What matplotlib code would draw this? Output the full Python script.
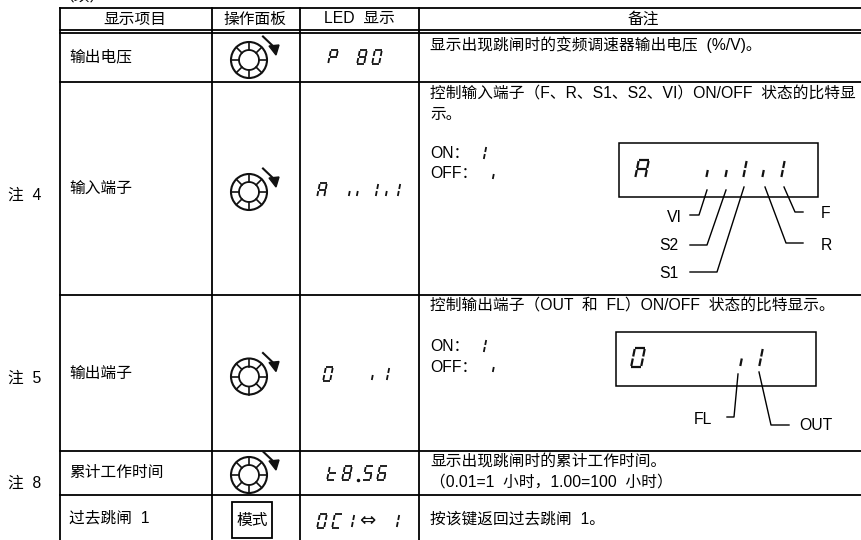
import numpy as np
import matplotlib
matplotlib.use('Agg')
import matplotlib.pyplot as plt
from matplotlib.patches import Rectangle, Circle

plt.rcParams['font.family'] = ['Liberation Sans', 'Noto Sans CJK SC', 'DejaVu Sans']

# textos da tabela
cabecalho = ['显示项目', '操作面板', 'LED  显示', '备注']
itens = ['输出电压', '输入端子', '输出端子', '累计工作时间', '过去跳闸  1']
notas = ['注  4', '注  5', '注  8']
observacoes = [
    '显示出现跳闸时的变频调速器输出电压  (%/V)。',
    '控制输入端子（F、R、S1、S2、VI）ON/OFF  状态的比特显',
    '示。',
    '控制输出端子（OUT  和  FL）ON/OFF  状态的比特显示。',
    '显示出现跳闸时的累计工作时间。',
    '（0.01=1  小时，1.00=100  小时）',
    '按该键返回过去跳闸  1。',
]
rotulos_on_off = ['ON：', 'OFF：']
rotulos_entrada = ['VI', 'S2', 'S1', 'R', 'F']
rotulos_saida = ['FL', 'OUT']
led_textos = ['P80', 'A,,1,1', '0,1', 't8.56', 'OC11']

# posicoes (pixels)
linhas_v = [60, 212, 300, 419]
linhas_h = [8, 29.7, 33, 81.7, 294.5, 451, 495]
cab_x = [135, 255, 359, 643]
item_y = [57, 188, 373, 472, 518]
nota_y = [195, 378, 483]
obs_y = [45, 94, 115, 306, 462, 482, 519]
knob_y = [60, 192, 376.5, 475]
led_x = [[333, 362, 377], [322, 350, 358, 377, 387, 399], [328, 373, 388],
         [332, 347, 368, 382], [322, 337, 353, 398]]
led_topo = [50, 183, 367, 466, 514]

SEG = {'0': 'abcdef', '1': 'bc', '5': 'acdfg', '6': 'acdefg', '8': 'abcdefg',
       'A': 'abcefg', 'P': 'abefg', 'O': 'abcdef', 'C': 'adef', 't': 'defg', ',': 'c'}

fig = plt.figure(figsize=(8.61, 5.4), dpi=100)
ax = fig.add_axes([0, 0, 1, 1])
ax.set_xlim(0, 861)
ax.set_ylim(540, 0)
ax.axis('off')


def seg_char(ch, cx, topo, h=14, w=7, lw=1.3):
    m = topo + h / 2
    base = topo + h
    pontos = {'a': ((0, topo), (1, topo)), 'b': ((1, topo + 1), (1, m - 1)),
              'c': ((1, m + 1), (1, base - 1)), 'd': ((0, base), (1, base)),
              'e': ((0, m + 1), (0, base - 1)), 'f': ((0, topo + 1), (0, m - 1)),
              'g': ((0, m), (1, m))}
    for s in SEG[ch]:
        (a, y0), (b, y1) = pontos[s]
        x0 = cx - w / 2 + a * w + (m - y0) * 0.2
        x1 = cx - w / 2 + b * w + (m - y1) * 0.2
        ax.plot([x0, x1], [y0, y1], color='#111111', lw=lw, solid_capstyle='butt')


def seg_um(ch, cx, topo, h=14, lw=1.3):
    # o "1" e a virgula so tem o lado direito, sem largura
    seg_char(ch, cx - 3.5, topo, h=h, w=7, lw=lw)


def knob(cy, cx=249):
    ax.add_patch(Circle((cx, cy), 18, fill=False, ec='#111111', lw=1.5))
    ax.add_patch(Circle((cx, cy), 10, fill=False, ec='#111111', lw=1.3))
    for ang in np.arange(0, 360, 45):
        c, s = np.cos(np.radians(ang)), np.sin(np.radians(ang))
        ax.plot([cx + 10 * c, cx + 18 * c], [cy + 10 * s, cy + 18 * s], color='#111111', lw=1.2)
    ax.plot([cx + 14, cx + 25], [cy - 23.5, cy - 13], color='#111111', lw=1.5)
    ax.fill([cx + 20, cx + 30, cx + 27], [cy - 14, cy - 15, cy - 5], color='#111111')


def txt(x, y, s, ha='left', size=11.3):
    ax.text(x, y, s, ha=ha, va='center', fontsize=size, color='black')


# grade da tabela
for x in linhas_v:
    ax.plot([x, x], [8, 540], color='black', lw=1.3)
for y in linhas_h:
    ax.plot([60, 861], [y, y], color='black', lw=1.3)

txt(82, -4, '（续）', ha='center')
for x, s in zip(cab_x, cabecalho):
    txt(x, 19, s, ha='center')
for y, s in zip(item_y, itens):
    txt(69, y, s)
for y, s in zip(nota_y, notas):
    txt(8, y, s)
for y, s in zip(obs_y, observacoes):
    txt(430, y, s)

for y in knob_y:
    knob(y)
ax.add_patch(Rectangle((232, 502), 40, 36, fill=False, ec='black', lw=1.3))
txt(252, 520, '模式', ha='center')

# visores LED
for texto, xs, topo in zip(led_textos, led_x, led_topo):
    for ch, x in zip(texto.replace('.', ''), xs):
        if ch in '1,':
            seg_um(ch, x, topo)
        else:
            seg_char(ch, x, topo)
ax.plot([358], [480], marker='o', ms=1.5, color='#111111')
ax.text(367, 520, '⇔', ha='center', va='center', fontsize=14, family='DejaVu Sans', color='#111111')

# legenda ON / OFF
for y_on, y_off, y_seg in [(153, 173, 146), (346, 367, 339)]:
    txt(430, y_on, rotulos_on_off[0])
    txt(430, y_off, rotulos_on_off[1])
    seg_um('1', 485, y_seg)
    seg_um(',', 494, y_seg + 20)

# diagrama de entrada
ax.add_patch(Rectangle((619, 143), 199, 54, fill=False, ec='black', lw=1.1))
for ch, x in zip('A,,1,1', [642, 708, 727, 745, 764, 783]):
    if ch in '1,':
        seg_um(ch, x, 160, h=18, lw=1.6)
    else:
        seg_char(ch, x, 160, h=18, w=10, lw=1.6)
ent_x = [[707, 699, 690], [726, 707, 690], [744, 717, 690], [765, 786, 803], [784, 795, 803]]
ent_y = [[190, 215, 215], [190, 245, 245], [187, 272, 272], [187, 243, 243], [187, 212, 212]]
for xs, ys in zip(ent_x, ent_y):
    ax.plot(xs, ys, color='black', lw=1.0)
for s, x, y in zip(rotulos_entrada, [674, 669, 669, 826, 826], [218, 246, 274, 246, 214]):
    txt(x, y, s, ha='center')

# diagrama de saida
ax.add_patch(Rectangle((616, 332), 200, 54, fill=False, ec='black', lw=1.1))
seg_char('0', 638, 348, h=19, w=10, lw=1.6)
seg_um(',', 742, 348, h=19, lw=1.6)
seg_um('1', 761, 348, h=19, lw=1.6)
sai_x = [[738, 734, 727], [759, 771, 789]]
sai_y = [[374, 417, 417], [372, 425, 425]]
for xs, ys in zip(sai_x, sai_y):
    ax.plot(xs, ys, color='black', lw=1.0)
for s, x, y in zip(rotulos_saida, [703, 816], [420, 426]):
    txt(x, y, s, ha='center')

fig.savefig('out.png', dpi=100)
